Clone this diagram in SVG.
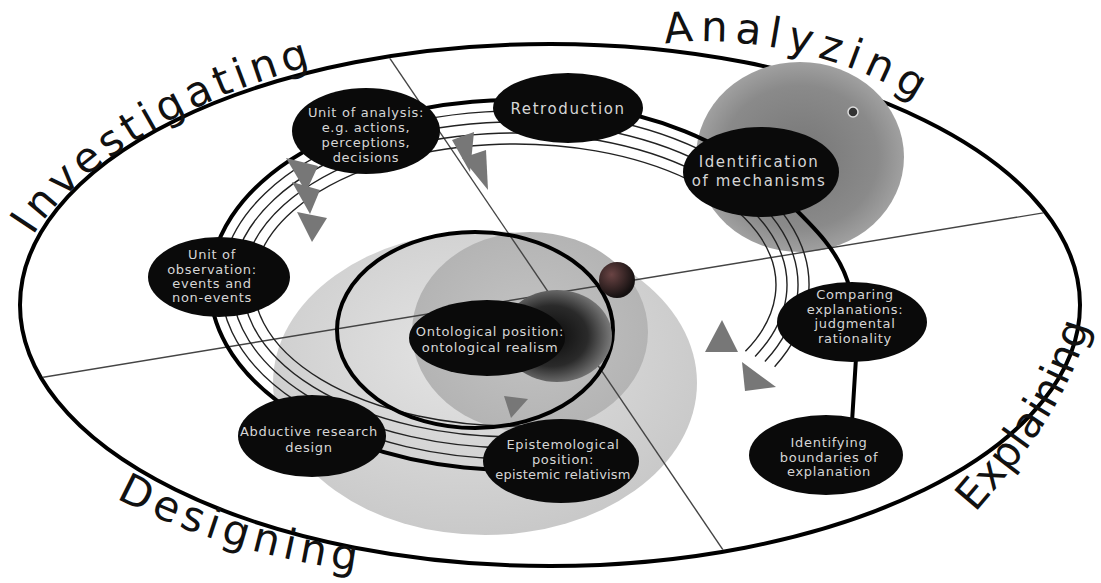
<svg xmlns="http://www.w3.org/2000/svg" width="1101" height="583" viewBox="0 0 1101 583">
<style>
.node ellipse{fill:#0a0a0a;}
.node text{fill:#d6d6d6;font-family:"DejaVu Sans","Liberation Sans",sans-serif;font-size:13px;letter-spacing:0.7px;text-anchor:middle;}
.node text.big{font-size:15px;letter-spacing:1.6px;}
.node text.tight{letter-spacing:0.2px;}
.lbl{font-family:"DejaVu Sans","Liberation Sans",sans-serif;font-size:42px;fill:#111;}
.thin{fill:none;stroke:#222;stroke-width:1.4;}
.div{stroke:#444;stroke-width:1.4;fill:none;}
.arr{fill:#777;}
</style>
<defs>
<radialGradient id="gLight" cx="45%" cy="40%" r="60%">
<stop offset="0" stop-color="#e4e4e4"/><stop offset="1" stop-color="#c9c9c9"/>
</radialGradient>
<radialGradient id="gMed" cx="50%" cy="50%" r="50%">
<stop offset="0" stop-color="#c4c4c4"/><stop offset="1" stop-color="#b4b4b4"/>
</radialGradient>
<radialGradient id="gHalo" cx="45%" cy="50%" r="55%">
<stop offset="0" stop-color="#0a0a0a"/><stop offset="0.6" stop-color="#2a2a2a"/><stop offset="1" stop-color="#7a7a7a"/>
</radialGradient>
<radialGradient id="gBall" cx="35%" cy="35%" r="65%">
<stop offset="0" stop-color="#6a4444"/><stop offset="1" stop-color="#141010"/>
</radialGradient>
<radialGradient id="gTR" cx="50%" cy="50%" r="50%">
<stop offset="0" stop-color="#767676"/><stop offset="0.75" stop-color="#8a8a8a"/><stop offset="1" stop-color="#a0a0a0"/>
</radialGradient>
<clipPath id="inside"><ellipse cx="550" cy="305" rx="528" ry="259"/></clipPath>
<path id="pInv" d="M 33,236 C 71,174 176,99 330,61"/>
<path id="pAna" d="M 665,44 C 730,34 840,50 918,102"/>
<path id="pDes" d="M 116,498 C 180,532 260,558 362,572"/>
<path id="pExp" d="M 975,513 C 1025,455 1070,400 1092,315"/>
</defs>

<rect width="1101" height="583" fill="#fff"/>
<ellipse cx="550" cy="305" rx="530" ry="261" fill="#fff" stroke="#000" stroke-width="4"/>

<g id="spheres">
<ellipse cx="800" cy="157" rx="104" ry="95" fill="url(#gTR)"/>
<circle cx="853" cy="112" r="5" fill="#333" stroke="#ddd" stroke-width="1.5"/>
<ellipse cx="485" cy="383" rx="212" ry="152" fill="url(#gLight)"/>
<ellipse cx="530" cy="332" rx="118" ry="100" fill="url(#gMed)"/>
</g>

<g id="dividers" clip-path="url(#inside)">
<line class="div" x1="372" y1="32" x2="740" y2="575"/>
<line class="div" x1="20" y1="381" x2="1085" y2="206"/>
</g>

<g id="connectors">
<path class="thin" d="M 525.3,458.9 A 294 174 0 1 1 774.6,366.7"/>
<path class="thin" d="M 524.9,447.9 A 283 163 0 1 1 764.9,361.5"/>
<path class="thin" d="M 524.5,436.9 A 272 152 0 1 1 755.1,356.4"/>
<path class="thin" d="M 524.1,425.9 A 261 141 0 1 1 745.4,351.2"/>
<path d="M 568,467.2 A 305 185 0 1 1 760.2,175 C 800,215 840,245 850,290" fill="none" stroke="#000" stroke-width="4"/>
<path d="M 856,358 L 852,422" fill="none" stroke="#000" stroke-width="4"/>
<ellipse cx="475" cy="330" rx="138" ry="98" fill="none" stroke="#000" stroke-width="4"/>
<polygon class="arr" points="286,158 318,166 306,192"/>
<polygon class="arr" points="292,182 320,190 310,214"/>
<polygon class="arr" points="297,212 327,218 312,242"/>
<polygon class="arr" points="452,140 474,132 470,172"/>
<polygon class="arr" points="462,158 486,150 488,190"/>
<polygon class="arr" points="722,320 705,352 738,352"/>
<polygon class="arr" points="742,362 776,387 745,391"/>
<polygon class="arr" points="504,396 528,399 511,418"/>
</g>

<ellipse cx="557" cy="336" rx="55" ry="46" fill="url(#gHalo)"/>
<circle cx="617" cy="280" r="18" fill="url(#gBall)"/>

<g id="n-analysis" class="node">
<ellipse cx="366" cy="131" rx="74" ry="43"/>
<text x="366" y="117">Unit of analysis:</text>
<text x="366" y="132">e.g. actions,</text>
<text x="366" y="147">perceptions,</text>
<text x="366" y="162">decisions</text>
</g>
<g id="n-retro" class="node">
<ellipse cx="568" cy="108" rx="75" ry="35"/>
<text class="big" x="568" y="114">Retroduction</text>
</g>
<g id="n-ident" class="node">
<ellipse cx="761" cy="172" rx="78" ry="45"/>
<text class="big" x="759" y="167">Identification</text>
<text class="big" x="759" y="186">of mechanisms</text>
</g>
<g id="n-obs" class="node">
<ellipse cx="219" cy="277" rx="71" ry="40"/>
<text x="212" y="259">Unit of</text>
<text x="212" y="274">observation:</text>
<text x="212" y="288">events and</text>
<text x="212" y="302">non-events</text>
</g>
<g id="n-onto" class="node">
<ellipse cx="487" cy="338" rx="78" ry="38"/>
<text x="490" y="336">Ontological position:</text>
<text x="490" y="352">ontological realism</text>
</g>
<g id="n-compare" class="node">
<ellipse cx="852" cy="322" rx="75" ry="40"/>
<text x="855" y="299">Comparing</text>
<text x="855" y="314">explanations:</text>
<text x="855" y="328">judgmental</text>
<text x="855" y="343">rationality</text>
</g>
<g id="n-abduct" class="node">
<ellipse cx="312" cy="436" rx="74" ry="41"/>
<text x="309" y="436">Abductive research</text>
<text x="309" y="452">design</text>
</g>
<g id="n-episte" class="node">
<ellipse cx="561" cy="461" rx="78" ry="42"/>
<text x="563" y="449">Epistemological</text>
<text x="563" y="464">position:</text>
<text class="tight" x="563" y="479">epistemic relativism</text>
</g>
<g id="n-bound" class="node">
<ellipse cx="826" cy="455" rx="77" ry="40"/>
<text x="829" y="447">Identifying</text>
<text x="829" y="462">boundaries of</text>
<text x="829" y="476">explanation</text>
</g>

<g id="labels">
<text class="lbl"><textPath href="#pInv" textLength="332" lengthAdjust="spacing">Investigating</textPath></text>
<text class="lbl"><textPath href="#pAna" textLength="262" lengthAdjust="spacing">Analyzing</textPath></text>
<text class="lbl"><textPath href="#pDes" textLength="252" lengthAdjust="spacing">Designing</textPath></text>
<text class="lbl"><textPath href="#pExp" textLength="222" lengthAdjust="spacing">Explaining</textPath></text>
</g>
</svg>
